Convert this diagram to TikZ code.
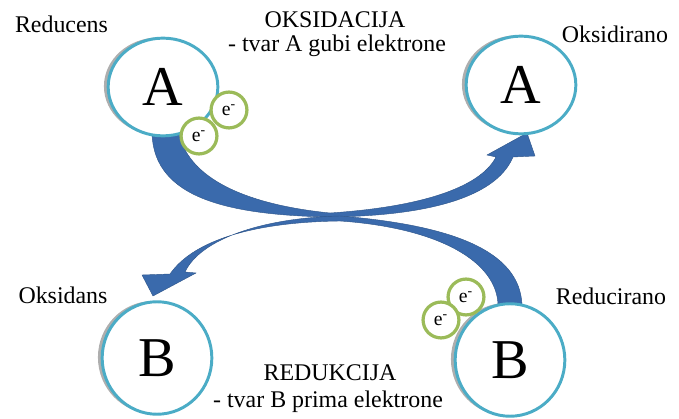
\documentclass[tikz,border=0pt]{standalone}
\usepackage{fontspec}
\setmainfont{Liberation Serif}
\usetikzlibrary{shapes.geometric,shadows}
\definecolor{ringblue}{RGB}{75,172,198}
\definecolor{ringgreen}{RGB}{155,187,89}
\definecolor{arrowblue}{RGB}{58,106,172}
\begin{document}
\begin{tikzpicture}[x=0.025cm,y=-0.025cm,
  atom/.style={ellipse,draw=ringblue,line width=2.1pt,fill=white,inner sep=0pt,
    minimum width=78pt,font=\fontsize{40}{40}\selectfont,
    drop shadow={shadow xshift=-3pt,shadow yshift=0.5pt,opacity=0.45,fill=black!70}},
  electron/.style={circle,draw=ringgreen,line width=2.3pt,fill=white,inner sep=0pt,
    minimum size=25.5pt,font=\fontsize{14}{14}\selectfont},
  lbl/.style={anchor=base,inner sep=0pt,font=\fontsize{17}{17}\selectfont},
  bigarrow/.style={fill=arrowblue,draw=arrowblue!80!black,line width=0.3pt}]
\useasboundingbox (0,0) rectangle (679,419);

\path[bigarrow] (152,128) .. controls (150,195) and (220,215) .. (330,217)
  .. controls (420,216) and (495,200) .. (513,157)
  -- (535,156) -- (527,133) -- (487,155) -- (496,157)
  .. controls (480,188) and (420,207) .. (330,213)
  .. controls (250,205) and (185,180) .. (178,128) -- cycle;
\path[bigarrow] (522,305) .. controls (520,250) and (450,225) .. (340,216)
  .. controls (260,218) and (200,240) .. (185,272)
  -- (196,273) -- (153,296) -- (142,275) -- (170,274)
  .. controls (195,238) and (260,222) .. (340,221)
  .. controls (440,228) and (497,262) .. (498,305) -- cycle;

\node[atom,minimum height=69.5pt] (reducens) at (163,87) {A};
\node[atom,minimum height=69.5pt] (oksidirano) at (521,85) {A};
\node[atom,minimum height=80pt] (oksidans) at (157,358) {B};
\node[atom,minimum height=80pt] (reducirano) at (510,360) {B};

\node[electron] (e1) at (229,110) {e\textsuperscript{-}};
\node[electron] (e2) at (199,136) {e\textsuperscript{-}};
\node[electron] (e3) at (466,297) {e\textsuperscript{-}};
\node[electron] (e4) at (441,320) {e\textsuperscript{-}};

\node[lbl] (reducensLbl) at (61.5,33) {Reducens};
\node[lbl] (oksTitle) at (335,28) {OKSIDACIJA};
\node[lbl] (oksText) at (337,52) {- tvar A gubi elektrone};
\node[lbl] (oksidiranoLbl) at (615,43) {Oksidirano};
\node[lbl] (oksidansLbl) at (63,304) {Oksidans};
\node[lbl] (reduciranoLbl) at (611,305) {Reducirano};
\node[lbl] (redTitle) at (330,381) {REDUKCIJA};
\node[lbl] (redText) at (328,408) {- tvar B prima elektrone};
\end{tikzpicture}
\end{document}
